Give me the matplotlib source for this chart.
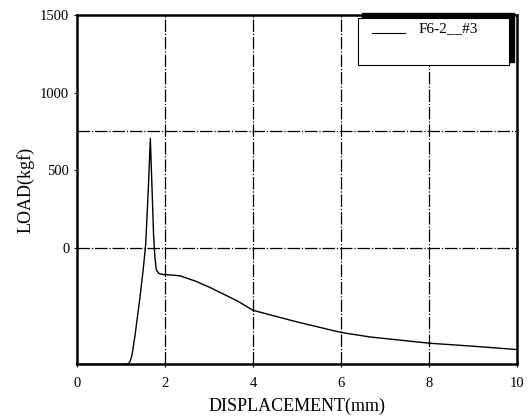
import matplotlib
matplotlib.use("Agg")
import matplotlib.pyplot as plt
from matplotlib.patches import Rectangle

# load-displacement curve
disp = [0.0, 1.10, 1.17, 1.21, 1.25, 1.32, 1.43, 1.50, 1.56, 1.62, 1.666,
        1.70, 1.74, 1.77, 1.80, 1.86, 1.96, 2.15, 2.34, 2.70, 3.02,
        3.63, 4.0, 4.5, 5.0, 6.0, 6.66, 8.0, 8.93, 10.0]
load = [-750, -750, -745, -730, -690, -560, -320, -150, 20, 380, 705,
        420, 80, -60, -140, -165, -172, -175, -180, -215, -255,
        -340, -402, -440, -477, -545, -574, -614, -632, -655]

xticks = [0, 2, 4, 6, 8, 10]
yticks = [0, 500, 1000, 1500]
xgrid = [2, 4, 6, 8]
ygrid = [0, 750]
label = 'F6-2__#3'

plt.rcParams['font.family'] = ['Liberation Serif', 'DejaVu Serif']

fig = plt.figure(figsize=(5.28, 4.19), dpi=100)
ax = fig.add_axes([0.1458, 0.1305, 0.9797 - 0.1458, 0.9642 - 0.1305])

for g in xgrid:
    ax.axvline(g, color='black', lw=0.9, ls=(0, (10, 1.5, 1, 1.5)), zorder=1)
for g in ygrid:
    ax.axhline(g, color='black', lw=0.9, ls=(0, (10, 1.5, 1, 1.5)), zorder=1)

ax.plot(disp, load, color='black', lw=1.0, zorder=3)

ax.set_xlim(0, 10)
ax.set_ylim(-750, 1500)
ax.set_xticks(xticks)
ax.set_yticks(yticks)
ax.tick_params(axis='both', labelsize=10.5, length=2, width=0.8, direction='out')
ax.tick_params(axis='x', pad=7)
for s in ax.spines.values():
    s.set_linewidth(1.8)

ax.set_xlabel('DISPLACEMENT(mm)', fontsize=13, labelpad=6)
ax.set_ylabel('LOAD(kgf)', fontsize=13, labelpad=4)

# legend box with the heavy black offset edge of the original
ax.add_patch(Rectangle((0.647, 0.865), 0.3455, 0.141, transform=ax.transAxes,
                       facecolor='black', edgecolor='black', zorder=4, clip_on=False))
ax.add_patch(Rectangle((0.638, 0.857), 0.343, 0.134, transform=ax.transAxes,
                       facecolor='white', edgecolor='black', lw=0.8, zorder=5,
                       clip_on=False))
ax.plot([0.670, 0.745], [0.948, 0.948], transform=ax.transAxes, color='black',
        lw=0.8, zorder=6)
ax.text(0.775, 0.96, label, transform=ax.transAxes, fontsize=11,
        va='center', ha='left', zorder=6)

fig.savefig('out.png', dpi=100)
